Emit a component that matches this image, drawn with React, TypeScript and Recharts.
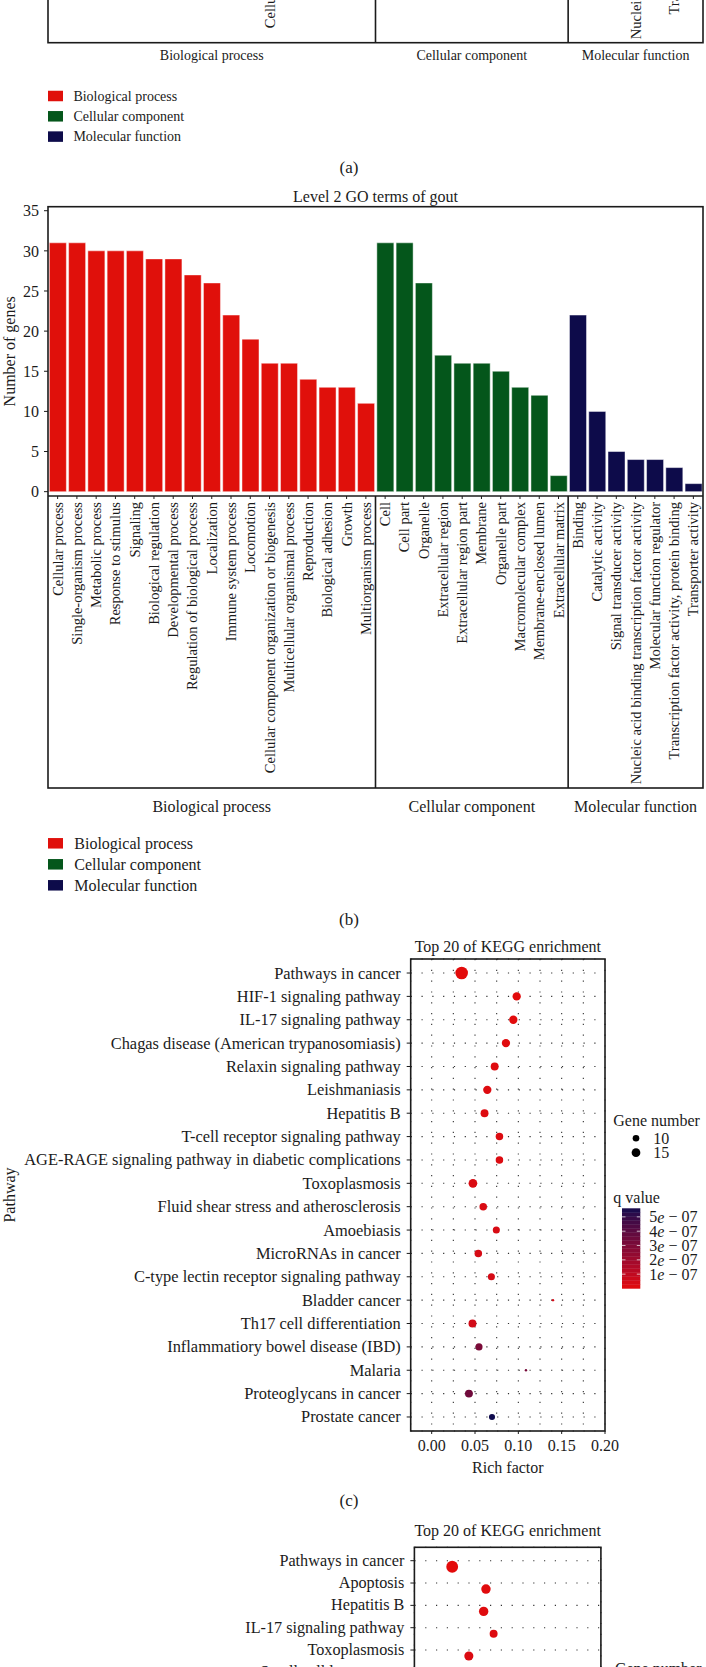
import React from 'react';
import { BarChart, Bar, XAxis, YAxis, Cell, ScatterChart, Scatter, CartesianGrid } from 'recharts';

const FONT = '"Liberation Serif", "Times New Roman", serif';
const INK = '#1b1b1b';
const PAGE_W = 706;
const PAGE_H = 1667;

// ---- GO level 2 terms (panels a/b) ----
const bpTerms = [
  'Cellular process', 'Single-organism process', 'Metabolic process', 'Response to stimulus',
  'Signaling', 'Biological regulation', 'Developmental process', 'Regulation of biological process',
  'Localization', 'Immune system process', 'Locomotion', 'Cellular component organization or biogenesis',
  'Multicellular organismal process', 'Reproduction', 'Biological adhesion', 'Growth', 'Multiorganism process',
];
const bpGenes = [31, 31, 30, 30, 30, 29, 29, 27, 26, 22, 19, 16, 16, 14, 13, 13, 11];
const ccTerms = [
  'Cell', 'Cell part', 'Organelle', 'Extracellular region', 'Extracellular region part', 'Membrane',
  'Organelle part', 'Macromolecular complex', 'Membrane-enclosed lumen', 'Extracellular matrix',
];
const ccGenes = [31, 31, 26, 17, 16, 16, 15, 13, 12, 2];
const mfTerms = [
  'Binding', 'Catalytic activity', 'Signal transducer activity',
  'Nucleic acid binding transcription factor activity', 'Molecular function regulator',
  'Transcription factor activity, protein binding', 'Transporter activity',
];
const mfGenes = [22, 10, 5, 4, 4, 3, 1];
const goGroups = ['Biological process', 'Cellular component', 'Molecular function'];
const goColors = ['#E0100B', '#04561B', '#0D0B4A'];
const goTicks = [0, 5, 10, 15, 20, 25, 30, 35];

// ---- KEGG top 20 (panel c) ----
const keggPathways = [
  'Pathways in cancer', 'HIF-1 signaling pathway', 'IL-17 signaling pathway',
  'Chagas disease (American trypanosomiasis)', 'Relaxin signaling pathway', 'Leishmaniasis',
  'Hepatitis B', 'T-cell receptor signaling pathway',
  'AGE-RAGE signaling pathway in diabetic complications', 'Toxoplasmosis',
  'Fluid shear stress and atherosclerosis', 'Amoebiasis', 'MicroRNAs in cancer',
  'C-type lectin receptor signaling pathway', 'Bladder cancer', 'Th17 cell differentiation',
  'Inflammatiory bowel disease (IBD)', 'Malaria', 'Proteoglycans in cancer', 'Prostate cancer',
];
const keggRich = [0.0346, 0.0981, 0.0942, 0.0857, 0.0727, 0.0642, 0.061, 0.0782, 0.0782, 0.0476,
  0.0595, 0.0746, 0.0538, 0.0689, 0.14, 0.0471, 0.0546, 0.1088, 0.043, 0.0696];
const keggGenes = [28, 14, 14, 14, 13, 14, 13, 12, 12, 15, 12, 11, 12, 11, 4, 13, 11, 4, 13, 9];
const keggQ = [1.1e-9, 3.5e-9, 5.2e-9, 8.7e-9, 1.3e-8, 1.6e-8, 1.9e-8, 2.2e-8, 2.2e-8, 2.6e-8,
  2.9e-8, 3.3e-8, 3.8e-8, 4.2e-8, 4.6e-8, 5.1e-8, 3.1e-7, 3.2e-7, 3.4e-7, 5.6e-7];

// ---- KEGG top 20 (panel d, only the first rows are on the page) ----
const keggDPathways = ['Pathways in cancer', 'Apoptosis', 'Hepatitis B', 'IL-17 signaling pathway',
  'Toxoplasmosis', 'Small cell lung cancer'];
const keggDRich = [0.0166, 0.0444, 0.0425, 0.0507, 0.0303];
const keggDGenes = [25, 17, 17, 13, 16];
const keggDQ = [1.0e-9, 8.0e-9, 1.2e-8, 1.8e-8, 2.4e-8];

const richTicksC = [0, 0.025, 0.05, 0.075, 0.1, 0.125, 0.15, 0.175, 0.2];
const richTicksD = [0, 0.025, 0.05, 0.075, 0.1, 0.125];
const qTicks = [1e-7, 2e-7, 3e-7, 4e-7, 5e-7];
const geneLegend = [10, 15];

// ---- helpers ----
const goNames = [...bpTerms, ...ccTerms, ...mfTerms];
const goValues = [...bpGenes, ...ccGenes, ...mfGenes];
const goGroupOf = [...bpTerms.map(() => 0), ...ccTerms.map(() => 1), ...mfTerms.map(() => 2)];

const hexToRgb = (h: string) => {
  const n = parseInt(h.slice(1), 16);
  return [(n >> 16) & 255, (n >> 8) & 255, n & 255];
};
const toLin = (c: number) => { c /= 255; return c <= 0.04045 ? c / 12.92 : Math.pow((c + 0.055) / 1.055, 2.4); };
const fromLin = (c: number) => {
  const v = c <= 0.0031308 ? 12.92 * c : 1.055 * Math.pow(c, 1 / 2.4) - 0.055;
  return Math.max(0, Math.min(255, Math.round(v * 255)));
};
const rgbToLab = (rgb: number[]) => {
  const [R, G, B] = rgb.map(toLin);
  const X = (0.4124 * R + 0.3576 * G + 0.1805 * B) / 0.95047;
  const Y = 0.2126 * R + 0.7152 * G + 0.0722 * B;
  const Z = (0.0193 * R + 0.1192 * G + 0.9505 * B) / 1.08883;
  const f = (t: number) => (t > 0.008856 ? Math.cbrt(t) : 7.787 * t + 16 / 116);
  return [116 * f(Y) - 16, 500 * (f(X) - f(Y)), 200 * (f(Y) - f(Z))];
};
const labToHex = ([L, a, b]: number[]) => {
  const fy = (L + 16) / 116, fx = fy + a / 500, fz = fy - b / 200;
  const inv = (t: number) => (t * t * t > 0.008856 ? t * t * t : (t - 16 / 116) / 7.787);
  const X = inv(fx) * 0.95047, Y = inv(fy), Z = inv(fz) * 1.08883;
  const r = fromLin(3.2406 * X - 1.5372 * Y - 0.4986 * Z);
  const g = fromLin(-0.9689 * X + 1.8758 * Y + 0.0415 * Z);
  const bl = fromLin(0.0557 * X - 0.204 * Y + 1.057 * Z);
  return '#' + [r, g, bl].map((v) => v.toString(16).padStart(2, '0')).join('');
};
const LOW = rgbToLab(hexToRgb('#E30B0B'));
const HIGH = rgbToLab(hexToRgb('#0F0B4D'));
const qMin = Math.min(...keggQ);
const qMax = Math.max(...keggQ);
const qColor = (q: number) => {
  const t = Math.max(0, Math.min(1, (q - qMin) / (qMax - qMin)));
  return labToHex(LOW.map((v, i) => v + (HIGH[i] - v) * t));
};
// bubble area grows linearly with gene number
const GENE_DOMAIN = [4, 28];
const AREA_RANGE = [4.5, 124.7];
const geneRadius = (n: number) => {
  const a = AREA_RANGE[0] + ((n - GENE_DOMAIN[0]) / (GENE_DOMAIN[1] - GENE_DOMAIN[0])) * (AREA_RANGE[1] - AREA_RANGE[0]);
  return Math.sqrt(Math.max(a, 0) / Math.PI);
};

// ---- layout ----
const GO = { left: 48, right: 703, top: 206.7, axis: 496, bottom: 788, chartTop: 150, chartH: 680 };
const GO_A_SHIFT = -745.3;
const bandW = (GO.right - GO.left) / goNames.length;
const LABEL_PX = 14.5;

const txt = (size: number) => ({ fontSize: size, fontFamily: FONT, fill: INK });

// rotated category label; labels that end above the page top are skipped
const goTick = (shift: number) => (p: any) => {
  const label: string = p.payload.value;
  const approxLen = label.length * LABEL_PX * 0.41;
  if (p.y + GO.chartTop + shift + approxLen < 0) return <g />;
  return (
    <text x={p.x} y={p.y} transform={`rotate(-90 ${p.x} ${p.y})`} textAnchor="end"
      dominantBaseline="central" {...txt(LABEL_PX)}>
      {label}
    </text>
  );
};

function GoChart({ shift, showBars }: { shift: number; showBars: boolean }) {
  const data = goNames.map((name, i) => ({ name, genes: showBars ? goValues[i] : null }));
  return (
    <div style={{ position: 'absolute', left: 0, top: GO.chartTop + shift }}>
      <BarChart width={PAGE_W} height={GO.chartH} data={data} barCategoryGap="7%"
        margin={{ top: GO.top - GO.chartTop, right: PAGE_W - GO.right, left: 0, bottom: GO.chartTop + GO.chartH - GO.bottom }}>
        <XAxis dataKey="name" interval={0} height={GO.bottom - GO.axis} tickSize={3} tickMargin={3}
          axisLine={false} tickLine={{ stroke: INK }} tick={goTick(shift)} />
        <YAxis type="number" domain={[-0.54, 35.5]} allowDataOverflow ticks={goTicks} interval={0}
          width={GO.left} tickSize={4} tickMargin={5} axisLine={false} tickLine={showBars ? { stroke: INK } : false}
          tick={showBars ? txt(16) : false} />
        <Bar dataKey="genes" isAnimationActive={false} stroke="#ffffff" strokeOpacity={0.45} strokeWidth={1}>
          {data.map((_, i) => <Cell key={i} fill={goColors[goGroupOf[i]]} />)}
        </Bar>
      </BarChart>
    </div>
  );
}

function GoFrame({ shift }: { shift: number }) {
  const cuts = [bpTerms.length, bpTerms.length + ccTerms.length].map((k) => GO.left + k * bandW);
  return (
    <g stroke={INK} strokeWidth={1.6} fill="none">
      <rect x={GO.left} y={GO.top + shift} width={GO.right - GO.left} height={GO.bottom - GO.top} />
      <line x1={GO.left} x2={GO.right} y1={GO.axis + shift} y2={GO.axis + shift} />
      {cuts.map((x) => <line key={x} x1={x} x2={x} y1={GO.axis + shift} y2={GO.bottom + shift} />)}
    </g>
  );
}

function GoGroupLabels({ y, size }: { y: number; size: number }) {
  const bounds = [0, bpTerms.length, bpTerms.length + ccTerms.length, goNames.length];
  return (
    <g>
      {goGroups.map((g, i) => (
        <text key={g} x={GO.left + ((bounds[i] + bounds[i + 1]) / 2) * bandW} y={y}
          textAnchor="middle" dominantBaseline="central" {...txt(size)}>{g}</text>
      ))}
    </g>
  );
}

function GoLegend({ y0, gap, size, textX }: { y0: number; gap: number; size: number; textX: number }) {
  return (
    <g>
      {goGroups.map((g, i) => (
        <g key={g}>
          <rect x={48} y={y0 + i * gap - 5.25} width={15} height={10.5} fill={goColors[i]} />
          <text x={textX} y={y0 + i * gap} dominantBaseline="central" {...txt(size)}>{g}</text>
        </g>
      ))}
    </g>
  );
}

// ---- KEGG bubble charts ----
interface Plot { left: number; right: number; top: number; bottom: number }
interface KeggProps {
  names: string[]; rich: number[]; genes: number[]; q: number[];
  top: number; height: number; plot: Plot; xDomain: [number, number]; xTicks: number[];
  dotShift: number; labelSize: number; showXLabels: boolean;
}

const renderRichTick = (p: any) => {
  const v = p.payload.value;
  const major = Math.abs(v / 0.05 - Math.round(v / 0.05)) < 1e-6;
  if (!major) return <g />;
  return (
    <g>
      <line x1={p.x} x2={p.x} y1={p.y} y2={p.y + 3} stroke={INK} />
      <text x={p.x} y={p.y + 14} textAnchor="middle" dominantBaseline="central" {...txt(16)}>{v.toFixed(2)}</text>
    </g>
  );
};

function KeggChart({ names, rich, genes, q, top, height, plot, xDomain, xTicks, dotShift, labelSize, showXLabels }: KeggProps) {
  const pts = rich.map((r, i) => ({ rich: r, row: i + 1, genes: genes[i], q: q[i] }));
  const rowTicks = names.map((_, i) => i + 1);
  const pathTick = (p: any) => (
    <text x={p.x} y={p.y} textAnchor="end" dominantBaseline="central" {...txt(labelSize)}>
      {names[p.payload.value - 1]}
    </text>
  );
  const dot = (p: any) => (
    <circle cx={p.cx} cy={p.cy} r={geneRadius(p.payload.genes)} fill={qColor(p.payload.q)} />
  );
  return (
    <div style={{ position: 'absolute', left: 0, top }}>
      <ScatterChart width={PAGE_W} height={height}
        margin={{ top: plot.top - top, right: PAGE_W - plot.right, left: 0, bottom: top + height - plot.bottom - 20 }}>
        <CartesianGrid yAxisId="rows" stroke="#333" strokeDasharray="1.2 9.6" strokeWidth={1.1} />
        <XAxis type="number" dataKey="rich" domain={xDomain} allowDataOverflow ticks={xTicks} interval={0}
          height={20} tickSize={0} tickMargin={0} axisLine={false} tickLine={false}
          tick={showXLabels ? renderRichTick : false} />
        <YAxis yAxisId="rows" type="number" domain={[0.4, 20.6]} reversed allowDataOverflow ticks={rowTicks}
          interval={0} width={plot.left} tickSize={4} tickMargin={6} axisLine={false}
          tickLine={{ stroke: INK }} tick={pathTick} />
        <YAxis yAxisId="dots" orientation="right" width={0} type="number" dataKey="row"
          domain={[0.4 - dotShift, 20.6 - dotShift]} reversed allowDataOverflow hide />
        <Scatter yAxisId="dots" data={pts} isAnimationActive={false} shape={dot} />
      </ScatterChart>
    </div>
  );
}

const PLOT_C: Plot = { left: 410.7, right: 605, top: 959, bottom: 1431 };
const PLOT_D: Plot = { left: 414.4, right: 600.9, top: 1547.3, bottom: 1998.4 };

function QLegend() {
  const x = 622, w = 18.3, top = 1208.3, h = 80, bins = 20;
  const yOf = (v: number) => top + h - ((v - qMin) / (qMax - qMin)) * h;
  return (
    <g>
      <text x={613.3} y={1120} dominantBaseline="central" {...txt(16)}>Gene number</text>
      {geneLegend.map((n, i) => (
        <g key={n}>
          <circle cx={636} cy={1138.3 + i * 14.4} r={geneRadius(n)} fill="#000" />
          <text x={653.3} y={1138.3 + i * 14.4} dominantBaseline="central" {...txt(16)}>{n}</text>
        </g>
      ))}
      <text x={613.3} y={1197.5} dominantBaseline="central" {...txt(16)}>q value</text>
      {Array.from({ length: bins }, (_, k) => (
        <rect key={k} x={x} y={top + h - ((k + 1) * h) / bins} width={w} height={h / bins + 0.4}
          fill={qColor(qMin + ((k + 0.5) / bins) * (qMax - qMin))} />
      ))}
      {qTicks.map((t) => (
        <g key={t}>
          <line x1={x} x2={x + 3.5} y1={yOf(t)} y2={yOf(t)} stroke="#fff" strokeOpacity={0.7} />
          <line x1={x + w - 3.5} x2={x + w} y1={yOf(t)} y2={yOf(t)} stroke="#fff" strokeOpacity={0.7} />
          <text x={649.3} y={yOf(t)} dominantBaseline="central" {...txt(16)}>
            {Math.round(t / 1e-7)}<tspan fontStyle="italic">e</tspan> − 07
          </text>
        </g>
      ))}
    </g>
  );
}

function Overlay() {
  const cx = (p: Plot) => (p.left + p.right) / 2;
  return (
    <svg width={PAGE_W} height={PAGE_H} style={{ position: 'absolute', left: 0, top: 0, pointerEvents: 'none' }}>
      {/* (a) remnant */}
      <GoFrame shift={GO_A_SHIFT} />
      <GoGroupLabels y={55} size={14} />
      <GoLegend y0={96} gap={20.3} size={14} textX={73.4} />
      <text x={349} y={167} textAnchor="middle" dominantBaseline="central" {...txt(17)}>(a)</text>

      {/* (b) */}
      <text x={(GO.left + GO.right) / 2} y={196.7} textAnchor="middle" dominantBaseline="central" {...txt(16)}>
        Level 2 GO terms of gout
      </text>
      <text x={10} y={351.3} transform="rotate(-90 10 351.3)" textAnchor="middle" dominantBaseline="central" {...txt(16)}>
        Number of genes
      </text>
      <GoFrame shift={0} />
      <GoGroupLabels y={806} size={16} />
      <GoLegend y0={843.3} gap={21} size={16} textX={74.3} />
      <text x={349} y={919} textAnchor="middle" dominantBaseline="central" {...txt(17)}>(b)</text>

      {/* (c) */}
      <text x={cx(PLOT_C)} y={946.7} textAnchor="middle" dominantBaseline="central" {...txt(16)}>
        Top 20 of KEGG enrichment
      </text>
      <rect x={PLOT_C.left} y={PLOT_C.top} width={PLOT_C.right - PLOT_C.left} height={PLOT_C.bottom - PLOT_C.top}
        fill="none" stroke={INK} strokeWidth={1.6} />
      <text x={cx(PLOT_C)} y={1467.3} textAnchor="middle" dominantBaseline="central" {...txt(16)}>Rich factor</text>
      <text x={9} y={1195} transform="rotate(-90 9 1195)" textAnchor="middle" dominantBaseline="central" {...txt(16)}>
        Pathway
      </text>
      <QLegend />
      <text x={349} y={1500} textAnchor="middle" dominantBaseline="central" {...txt(17)}>(c)</text>

      {/* (d) top */}
      <text x={cx(PLOT_D)} y={1530} textAnchor="middle" dominantBaseline="central" {...txt(16)}>
        Top 20 of KEGG enrichment
      </text>
      <rect x={PLOT_D.left} y={PLOT_D.top} width={PLOT_D.right - PLOT_D.left} height={PLOT_D.bottom - PLOT_D.top}
        fill="none" stroke={INK} strokeWidth={1.6} />
      <text x={614.9} y={1668} dominantBaseline="central" {...txt(16)}>Gene number</text>
    </svg>
  );
}

export default function App() {
  return (
    <div style={{ position: 'absolute', left: 0, top: 0, width: PAGE_W, height: PAGE_H, overflow: 'hidden', background: '#fff', fontFamily: FONT }}>
      <GoChart shift={GO_A_SHIFT} showBars={false} />
      <GoChart shift={0} showBars />
      <KeggChart names={keggPathways} rich={keggRich} genes={keggGenes} q={keggQ} top={940} height={540}
        plot={PLOT_C} xDomain={[-0.0242, 0.2]} xTicks={richTicksC} dotShift={0} labelSize={16.4} showXLabels />
      <KeggChart names={keggDPathways} rich={keggDRich} genes={keggDGenes} q={keggDQ} top={1530} height={520}
        plot={PLOT_D} xDomain={[-0.0145, 0.139]} xTicks={richTicksD} dotShift={0.27} labelSize={16.2}
        showXLabels={false} />
      <Overlay />
    </div>
  );
}
